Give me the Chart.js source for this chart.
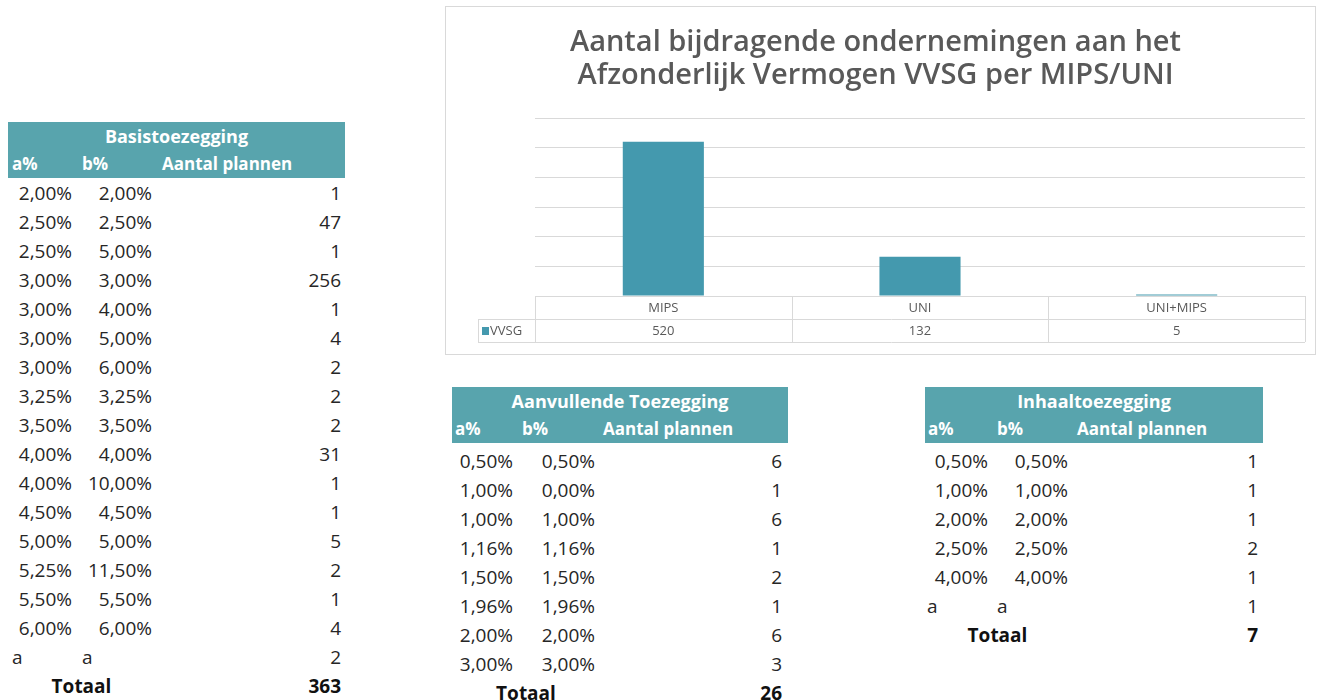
<!DOCTYPE html>
<html>
<head>
<meta charset="utf-8">
<script src="https://cdn.jsdelivr.net/npm/chart.js@4.4.0/dist/chart.umd.min.js"></script>
<style>
body { margin: 0; background: #fff; font-family: "Open Sans", sans-serif; color: #262626; }
#chartBox { position: absolute; left: 445px; top: 6px; width: 869px; height: 347px; border: 1px solid #d9d9d9; }
.tbl { position: absolute; }
.tbl span { position: absolute; white-space: nowrap; }
.tbl .head { position: absolute; left: 0; top: 0; height: 56px; background: #58a4ad; }
.tbl .ht { color: #fff; font-weight: bold; height: 28px; line-height: 28px; }
.tbl .cell { font-size: 19px; height: 29px; line-height: 29px; }
.tbl .tot { font-weight: bold; color: #111; }
</style>
</head>
<body>
<div id="chartBox"><canvas id="vvsgChart" width="869" height="347"></canvas></div>

<script>
/*************************************************
 * Data                                          *
 *************************************************/
const categories = ['MIPS', 'UNI', 'UNI+MIPS'];
const vvsgValues = [520, 132, 5];

const basisA = ['2,00%', '2,50%', '2,50%', '3,00%', '3,00%', '3,00%', '3,00%', '3,25%', '3,50%',
    '4,00%', '4,00%', '4,50%', '5,00%', '5,25%', '5,50%', '6,00%', 'a'];
const basisB = ['2,00%', '2,50%', '5,00%', '3,00%', '4,00%', '5,00%', '6,00%', '3,25%', '3,50%',
    '4,00%', '10,00%', '4,50%', '5,00%', '11,50%', '5,50%', '6,00%', 'a'];
const basisCount = [1, 47, 1, 256, 1, 4, 2, 2, 2, 31, 1, 1, 5, 2, 1, 4, 2];
const basisTotal = 363;

const aanvA = ['0,50%', '1,00%', '1,00%', '1,16%', '1,50%', '1,96%', '2,00%', '3,00%'];
const aanvB = ['0,50%', '0,00%', '1,00%', '1,16%', '1,50%', '1,96%', '2,00%', '3,00%'];
const aanvCount = [6, 1, 6, 1, 2, 1, 6, 3];
const aanvTotal = 26;

const inhaalA = ['0,50%', '1,00%', '2,00%', '2,50%', '4,00%', 'a'];
const inhaalB = ['0,50%', '1,00%', '2,00%', '2,50%', '4,00%', 'a'];
const inhaalCount = [1, 1, 1, 2, 1, 1];
const inhaalTotal = 7;

/*************************************************
 * Side tables                                   *
 *************************************************/
function addSpan(parent, cls, text, style) {
    const s = document.createElement('span');
    s.className = cls;
    s.textContent = text;
    Object.assign(s.style, style);
    parent.appendChild(s);
    return s;
}

function buildTable(title, aVals, bVals, counts, total, L) {
    const el = document.createElement('div');
    el.className = 'tbl';
    el.style.left = L.x + 'px';
    el.style.top = L.y + 'px';
    document.body.appendChild(el);

    const head = document.createElement('div');
    head.className = 'head';
    head.style.width = L.w + 'px';
    el.appendChild(head);

    addSpan(el, 'ht', title, { left: '0px', top: '0px', width: L.w + 'px', textAlign: 'center', fontSize: '18px' });
    addSpan(el, 'ht', 'a%', { left: L.hA + 'px', top: '28px', fontSize: '17px' });
    addSpan(el, 'ht', 'b%', { left: L.hB + 'px', top: '28px', fontSize: '17px' });
    addSpan(el, 'ht', 'Aantal plannen', { left: L.hC + 'px', top: '28px', fontSize: '17px' });

    const isNum = v => /%$/.test(v);
    aVals.forEach((a, i) => {
        const top = (L.rowY + i * 29) + 'px';
        if (isNum(a)) addSpan(el, 'cell', a, { left: '0px', width: L.aR + 'px', textAlign: 'right', top });
        else addSpan(el, 'cell', a, { left: L.aL + 'px', top });
        const b = bVals[i];
        if (isNum(b)) addSpan(el, 'cell', b, { left: '0px', width: L.bR + 'px', textAlign: 'right', top });
        else addSpan(el, 'cell', b, { left: L.bL + 'px', top });
        addSpan(el, 'cell', String(counts[i]), { left: '0px', width: L.cR + 'px', textAlign: 'right', top });
    });
    const tTop = (L.rowY + aVals.length * 29) + 'px';
    addSpan(el, 'cell tot', 'Totaal', { left: '0px', width: L.tW + 'px', textAlign: 'center', top: tTop });
    addSpan(el, 'cell tot', String(total), { left: '0px', width: L.cR + 'px', textAlign: 'right', top: tTop });
}

buildTable('Basistoezegging', basisA, basisB, basisCount, basisTotal,
    { x: 8, y: 122, w: 337, hA: 4, hB: 74, hC: 154, rowY: 57, aR: 64, aL: 4, bR: 144, bL: 74, cR: 333, tW: 147 });
buildTable('Aanvullende Toezegging', aanvA, aanvB, aanvCount, aanvTotal,
    { x: 452, y: 387, w: 336, hA: 3, hB: 70, hC: 151, rowY: 60, aR: 61, aL: 3, bR: 143, bL: 70, cR: 330, tW: 148 });
buildTable('Inhaaltoezegging', inhaalA, inhaalB, inhaalCount, inhaalTotal,
    { x: 925, y: 387, w: 338, hA: 3, hB: 72, hC: 152, rowY: 60, aR: 63, aL: 2, bR: 143, bL: 72, cR: 333, tW: 145 });

/*************************************************
 * Chart with data table underneath              *
 *************************************************/
const barColor = '#4499ae';

const dataTablePlugin = {
    id: 'dataTable',
    afterDraw(chart) {
        const { ctx, chartArea } = chart;
        const xs = chart.scales.x;
        const top = chartArea.bottom;
        const mid = top + 23;
        const bot = top + 46;
        const legLeft = chartArea.left - 57;

        const bounds = [chartArea.left];
        for (let i = 1; i < categories.length; i++) {
            bounds.push((xs.getPixelForValue(i - 1) + xs.getPixelForValue(i)) / 2);
        }
        bounds.push(chartArea.right);

        ctx.save();
        ctx.strokeStyle = '#d9d9d9';
        ctx.lineWidth = 1;
        ctx.beginPath();
        ctx.moveTo(legLeft, mid + 0.5); ctx.lineTo(chartArea.right, mid + 0.5);
        ctx.moveTo(legLeft, bot + 0.5); ctx.lineTo(chartArea.right, bot + 0.5);
        ctx.moveTo(legLeft + 0.5, mid); ctx.lineTo(legLeft + 0.5, bot);
        bounds.forEach(bx => {
            const px = Math.round(bx) + 0.5;
            ctx.moveTo(px, top); ctx.lineTo(px, bot);
        });
        ctx.stroke();

        ctx.fillStyle = '#595959';
        ctx.font = '13px "Open Sans"';
        ctx.textAlign = 'center';
        ctx.textBaseline = 'middle';
        categories.forEach((c, i) => {
            const cx = xs.getPixelForValue(i);
            ctx.fillText(c, cx, top + 12);
            ctx.fillText(String(vvsgValues[i]), cx, mid + 12);
        });

        ctx.fillStyle = barColor;
        ctx.fillRect(legLeft + 4, mid + 8, 7, 8);
        ctx.fillStyle = '#595959';
        ctx.textAlign = 'left';
        ctx.fillText('VVSG', legLeft + 12, mid + 12);
        ctx.restore();
    }
};

new Chart(document.getElementById('vvsgChart').getContext('2d'), {
    type: 'bar',
    data: {
        labels: categories,
        datasets: [{
            label: 'VVSG',
            data: vvsgValues,
            backgroundColor: barColor,
            barPercentage: 0.316,
            categoryPercentage: 1
        }]
    },
    options: {
        responsive: false,
        animation: false,
        layout: {
            padding: { left: 0, right: 10, top: 0, bottom: 58 }
        },
        scales: {
            x: {
                display: false
            },
            y: {
                min: 0,
                max: 600,
                afterFit: (scale) => { scale.width = 89; },
                ticks: {
                    display: false,
                    stepSize: 100
                },
                border: { display: false },
                grid: {
                    color: '#d9d9d9',
                    drawTicks: false
                }
            }
        },
        plugins: {
            legend: { display: false },
            tooltip: { enabled: false },
            title: {
                display: true,
                text: ['Aantal bijdragende ondernemingen aan het', 'Afzonderlijk Vermogen VVSG per MIPS/UNI'],
                color: '#595959',
                padding: { top: 19, bottom: 26 },
                font: {
                    family: 'Open Sans',
                    size: 29,
                    weight: '600',
                    lineHeight: 1.138
                }
            }
        }
    },
    plugins: [dataTablePlugin]
});
</script>
</body>
</html>
